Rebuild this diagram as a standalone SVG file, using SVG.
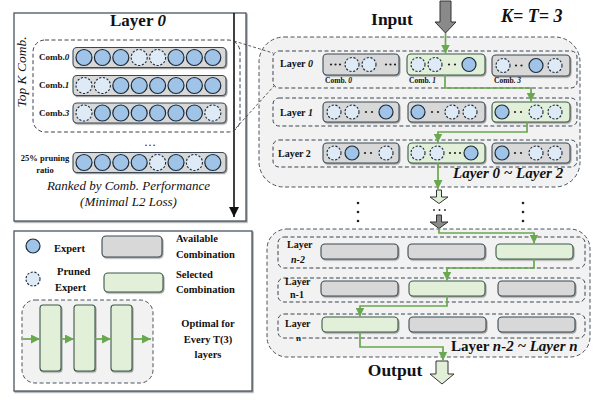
<svg xmlns="http://www.w3.org/2000/svg" width="604" height="414" viewBox="0 0 604 414">
<defs>
<style>
text{font-family:"Liberation Serif","Times New Roman",serif;font-weight:bold;fill:#111}
.it{font-style:italic}
.ex{fill:#a0c3e8;stroke:#1c2a38;stroke-width:1.2}
.pr{fill:#deebf7;stroke:#1c2a38;stroke-width:1.1;stroke-dasharray:2.2 1.6}
.cb{fill:#d8d8d8;stroke:#3b4a55;stroke-width:1.1}
.cg{fill:#e2f0d9;stroke:#3b5a48;stroke-width:1.1}
.dash{fill:none;stroke:#3b4550;stroke-width:1;stroke-dasharray:4 2.5}
.rowd{fill:none;stroke:#3b4550;stroke-width:1;stroke-dasharray:4 2.5}
.region{fill:#f2f2f2;stroke:#4a5560;stroke-width:1;stroke-dasharray:4 2.5}
.g{fill:none;stroke:#6aa84f;stroke-width:1.7}
.dot{fill:#222}
.panel{fill:#fff;stroke:#4a5560;stroke-width:1.3}
</style>
<filter id="sh" x="-10%" y="-10%" width="130%" height="140%">
<feDropShadow dx="1" dy="1.2" stdDeviation="0.7" flood-color="#777" flood-opacity="0.7"/>
</filter>
<marker id="ga" markerUnits="userSpaceOnUse" markerWidth="9" markerHeight="9" viewBox="0 0 10 10" refX="10" refY="5" orient="auto">
<path d="M0,0 L10,5 L0,10 z" fill="#6aa84f"/>
</marker>
<marker id="ka" markerUnits="userSpaceOnUse" markerWidth="10" markerHeight="10" viewBox="0 0 10 10" refX="10" refY="5" orient="auto">
<path d="M0,0 L10,5 L0,10 z" fill="#111"/>
</marker>
</defs>

<!-- Left panel: Layer 0 -->
<g id="layer0-panel">
<rect class="panel" x="14" y="13" width="232" height="208" filter="url(#sh)"/>
<text x="110" y="26" font-size="17">Layer <tspan class="it">0</tspan></text>
<line x1="234" y1="13" x2="234" y2="217" stroke="#111" stroke-width="1.6" marker-end="url(#ka)"/>
<rect class="dash" x="33" y="40" width="207" height="92" rx="12"/>
<text transform="translate(26,72) rotate(-90)" font-size="13.5" class="it" text-anchor="middle" style="font-weight:normal">Top K Comb.</text>
</g>

<g id="comb0-row">
<text x="39" y="60" font-size="9">Comb.<tspan class="it">0</tspan></text>
<rect class="cb" x="73" y="47.5" width="153" height="20" rx="4" filter="url(#sh)"/>
<circle class="ex" cx="84" cy="57.5" r="8"/><circle class="ex" cx="102.4" cy="57.5" r="8"/><circle class="ex" cx="120.8" cy="57.5" r="8"/><circle class="pr" cx="139.2" cy="57.5" r="8"/><circle class="pr" cx="157.6" cy="57.5" r="8"/><circle class="ex" cx="176" cy="57.5" r="8"/><circle class="ex" cx="194.4" cy="57.5" r="8"/><circle class="ex" cx="212.8" cy="57.5" r="8"/>
</g>
<g id="comb1-row">
<text x="39" y="88" font-size="9">Comb.<tspan class="it">1</tspan></text>
<rect class="cb" x="73" y="75.5" width="153" height="20" rx="4" filter="url(#sh)"/>
<circle class="pr" cx="84" cy="85.5" r="8"/><circle class="pr" cx="102.4" cy="85.5" r="8"/><circle class="ex" cx="120.8" cy="85.5" r="8"/><circle class="ex" cx="139.2" cy="85.5" r="8"/><circle class="ex" cx="157.6" cy="85.5" r="8"/><circle class="ex" cx="176" cy="85.5" r="8"/><circle class="ex" cx="194.4" cy="85.5" r="8"/><circle class="ex" cx="212.8" cy="85.5" r="8"/>
</g>
<g id="comb3-row">
<text x="39" y="116" font-size="9">Comb.<tspan class="it">3</tspan></text>
<rect class="cb" x="73" y="103" width="153" height="20" rx="4" filter="url(#sh)"/>
<circle class="pr" cx="84" cy="113" r="8"/><circle class="ex" cx="102.4" cy="113" r="8"/><circle class="ex" cx="120.8" cy="113" r="8"/><circle class="ex" cx="139.2" cy="113" r="8"/><circle class="ex" cx="157.6" cy="113" r="8"/><circle class="ex" cx="176" cy="113" r="8"/><circle class="ex" cx="194.4" cy="113" r="8"/><circle class="pr" cx="212.8" cy="113" r="8"/>
</g>
<text x="150" y="146" font-size="12" text-anchor="middle" style="font-weight:normal">…</text>
<g id="prune-row">
<text x="45" y="161" font-size="8.5" text-anchor="middle">25% pruning</text>
<text x="45" y="173" font-size="8.5" text-anchor="middle">ratio</text>
<rect class="cb" x="73" y="152.5" width="153" height="20" rx="4" filter="url(#sh)"/>
<circle class="ex" cx="84" cy="162.5" r="8"/><circle class="ex" cx="102.4" cy="162.5" r="8"/><circle class="ex" cx="120.8" cy="162.5" r="8"/><circle class="ex" cx="139.2" cy="162.5" r="8"/><circle class="pr" cx="157.6" cy="162.5" r="8"/><circle class="ex" cx="176" cy="162.5" r="8"/><circle class="pr" cx="194.4" cy="162.5" r="8"/><circle class="ex" cx="212.8" cy="162.5" r="8"/>
</g>
<text x="128.5" y="190" font-size="13" text-anchor="middle" class="it" style="font-weight:normal">Ranked by Comb. Performance</text>
<text x="128.5" y="206" font-size="13" text-anchor="middle" class="it" style="font-weight:normal">(Minimal L2 Loss)</text>

<!-- Legend -->
<g id="legend">
<rect class="panel" x="14" y="231" width="238" height="160" filter="url(#sh)"/>
<circle class="ex" cx="33" cy="246" r="7"/>
<text x="54" y="252" font-size="10.5">Expert</text>
<rect class="cb" x="102" y="236" width="60" height="21" rx="4" filter="url(#sh)"/>
<text x="176" y="242" font-size="10.5">Available</text>
<text x="176" y="258" font-size="10.5">Combination</text>
<circle class="pr" cx="33" cy="279" r="7"/>
<text x="57" y="275" font-size="10.5">Pruned</text>
<text x="55" y="291" font-size="10.5">Expert</text>
<rect class="cg" x="104" y="273" width="59" height="19" rx="4" filter="url(#sh)"/>
<text x="176" y="278" font-size="10.5">Selected</text>
<text x="176" y="293" font-size="10.5">Combination</text>
<rect class="region" x="22" y="300" width="131" height="83" rx="13"/>
<rect class="cg" x="40" y="305" width="21" height="66" rx="3" filter="url(#sh)"/>
<rect class="cg" x="74" y="305" width="21" height="66" rx="3" filter="url(#sh)"/>
<rect class="cg" x="111" y="305" width="21" height="66" rx="3" filter="url(#sh)"/>
<line class="g" x1="23" y1="339" x2="40" y2="339" marker-end="url(#ga)"/>
<line class="g" x1="61" y1="339" x2="74" y2="339" marker-end="url(#ga)"/>
<line class="g" x1="95" y1="339" x2="111" y2="339" marker-end="url(#ga)"/>
<line class="g" x1="132" y1="339" x2="151" y2="339" marker-end="url(#ga)"/>
<text x="208" y="327" font-size="10.5" text-anchor="middle">Optimal for</text>
<text x="208" y="343" font-size="10.5" text-anchor="middle">Every T(3)</text>
<text x="208" y="358" font-size="10.5" text-anchor="middle">layers</text>
</g>

<!-- Right top region -->
<g id="top-region">
<rect class="region" x="259" y="37" width="321" height="150" rx="25"/>
<text x="392" y="25" font-size="17.5" text-anchor="middle">Input</text>
<text x="501" y="22" font-size="18" class="it">K= T= 3</text>
<text x="453" y="178" font-size="15" class="it">Layer  0 ~ Layer  2</text>
</g>

<g id="layer0-row">
<rect class="rowd" x="273" y="51" width="304" height="37" rx="6"/>
<text x="280" y="67" font-size="10">Layer <tspan class="it">0</tspan></text>
<rect class="cb" x="323" y="54" width="76" height="21" rx="4" filter="url(#sh)"/>
<circle class="dot" cx="331" cy="64.5" r="1.1"/><circle class="dot" cx="335.5" cy="64.5" r="1.1"/><circle class="dot" cx="340" cy="64.5" r="1.1"/>
<circle class="pr" cx="352" cy="64.5" r="7"/><circle class="pr" cx="369" cy="64.5" r="7"/>
<circle class="dot" cx="386" cy="64.5" r="1.1"/><circle class="dot" cx="390.5" cy="64.5" r="1.1"/><circle class="dot" cx="395" cy="64.5" r="1.1"/>
<rect class="cg" x="407" y="54" width="78" height="21" rx="4" filter="url(#sh)"/>
<circle class="pr" cx="418" cy="64.5" r="7"/><circle class="pr" cx="435" cy="64.5" r="7"/>
<circle class="dot" cx="449" cy="64.5" r="1.1"/><circle class="dot" cx="455" cy="64.5" r="1.1"/>
<circle class="ex" cx="469" cy="64.5" r="7"/>
<rect class="cb" x="492" y="55" width="78" height="21" rx="4" filter="url(#sh)"/>
<circle class="pr" cx="503" cy="65.5" r="7"/>
<circle class="dot" cx="516" cy="65.5" r="1.1"/><circle class="dot" cx="521.5" cy="65.5" r="1.1"/>
<circle class="ex" cx="536" cy="65.5" r="7"/><circle class="pr" cx="555" cy="65.5" r="7"/>
<text x="325" y="83" font-size="7.5">Comb. <tspan class="it">0</tspan></text>
<text x="409" y="83" font-size="7.5">Comb. <tspan class="it">1</tspan></text>
<text x="494" y="83" font-size="7.5">Comb. <tspan class="it">3</tspan></text>
</g>

<g id="layer1-row">
<rect class="rowd" x="273" y="98" width="304" height="28" rx="6"/>
<text x="280" y="116" font-size="10">Layer <tspan class="it">1</tspan></text>
<rect class="cb" x="323" y="102" width="76" height="20" rx="4" filter="url(#sh)"/>
<circle class="pr" cx="334" cy="112" r="7"/><circle class="pr" cx="352" cy="112" r="7"/>
<circle class="dot" cx="366" cy="112" r="1.1"/><circle class="dot" cx="372" cy="112" r="1.1"/>
<circle class="ex" cx="386" cy="112" r="7"/>
<rect class="cb" x="408" y="102" width="77" height="20" rx="4" filter="url(#sh)"/>
<circle class="ex" cx="418" cy="112" r="7"/>
<circle class="dot" cx="432" cy="112" r="1.1"/><circle class="dot" cx="438" cy="112" r="1.1"/>
<circle class="pr" cx="452" cy="112" r="7"/><circle class="pr" cx="470" cy="112" r="7"/>
<rect class="cg" x="492" y="102" width="78" height="20" rx="4" filter="url(#sh)"/>
<circle class="ex" cx="502" cy="112" r="7"/>
<circle class="dot" cx="515" cy="112" r="1.1"/><circle class="dot" cx="521" cy="112" r="1.1"/>
<circle class="pr" cx="536" cy="112" r="7"/><circle class="pr" cx="555" cy="112" r="7"/>
</g>

<g id="layer2-row">
<rect class="rowd" x="273" y="140" width="304" height="27" rx="6"/>
<text x="278" y="157" font-size="10">Layer 2</text>
<rect class="cb" x="323" y="143" width="76" height="20" rx="4" filter="url(#sh)"/>
<circle class="pr" cx="334" cy="153" r="7"/><circle class="ex" cx="352" cy="153" r="7"/>
<circle class="dot" cx="365" cy="153" r="1.1"/><circle class="dot" cx="371" cy="153" r="1.1"/>
<circle class="pr" cx="386" cy="153" r="7"/>
<rect class="cg" x="408" y="143" width="77" height="20" rx="4" filter="url(#sh)"/>
<circle class="pr" cx="418" cy="153" r="7"/><circle class="pr" cx="437" cy="153" r="7"/>
<circle class="dot" cx="450" cy="153" r="1.1"/><circle class="dot" cx="455" cy="153" r="1.1"/><circle class="dot" cx="460" cy="153" r="1.1"/>
<circle class="ex" cx="471" cy="153" r="7"/>
<rect class="cb" x="492" y="143" width="78" height="20" rx="4" filter="url(#sh)"/>
<circle class="ex" cx="502" cy="153" r="7"/>
<circle class="dot" cx="515" cy="153" r="1.1"/><circle class="dot" cx="521" cy="153" r="1.1"/>
<circle class="pr" cx="536" cy="153" r="7"/><circle class="pr" cx="555" cy="153" r="7"/>
</g>

<!-- Between regions -->
<g id="ellipsis">
<circle class="dot" cx="358" cy="203" r="1.3"/><circle class="dot" cx="358" cy="212" r="1.3"/><circle class="dot" cx="358" cy="221" r="1.3"/>
<circle class="dot" cx="523" cy="203" r="1.3"/><circle class="dot" cx="523" cy="212" r="1.3"/><circle class="dot" cx="523" cy="221" r="1.3"/>
<circle class="dot" cx="434" cy="210" r="0.9"/><circle class="dot" cx="439.5" cy="210" r="0.9"/><circle class="dot" cx="445" cy="210" r="0.9"/>
</g>

<!-- Bottom region -->
<g id="bottom-region">
<rect class="region" x="267" y="229" width="323" height="128" rx="20"/>
<text x="451" y="351" font-size="15">Layer <tspan class="it">n-2 ~ Layer n</tspan></text>
</g>
<g id="layer-n2-row">
<rect class="rowd" x="278" y="237" width="307" height="31" rx="6"/>
<text x="287" y="248" font-size="10">Layer</text>
<text x="291" y="263" font-size="10" class="it">n-2</text>
<rect class="cb" x="321" y="244" width="77" height="15" rx="4" filter="url(#sh)"/>
<rect class="cb" x="408" y="244" width="77" height="15" rx="4" filter="url(#sh)"/>
<rect class="cg" x="496" y="244" width="77" height="15" rx="4" filter="url(#sh)"/>
</g>
<g id="layer-n1-row">
<rect class="rowd" x="278" y="278" width="307" height="24" rx="6"/>
<text x="285" y="285" font-size="10">Layer</text>
<text x="290" y="298" font-size="10">n-1</text>
<rect class="cb" x="321" y="281" width="77" height="15" rx="4" filter="url(#sh)"/>
<rect class="cg" x="409" y="281" width="76" height="15" rx="4" filter="url(#sh)"/>
<rect class="cb" x="498" y="281" width="77" height="15" rx="4" filter="url(#sh)"/>
</g>
<g id="layer-n-row">
<text x="285" y="327" font-size="10">Layer</text>
<text x="296" y="341" font-size="9">n</text>
<rect class="rowd" x="278" y="314" width="307" height="24" rx="6"/>
<rect class="cg" x="322" y="317" width="76" height="15" rx="4" filter="url(#sh)"/>
<rect class="cb" x="409" y="317" width="77" height="15" rx="4" filter="url(#sh)"/>
<rect class="cb" x="498" y="317" width="77" height="15" rx="4" filter="url(#sh)"/>
<text x="395" y="376" font-size="17.5" text-anchor="middle">Output</text>
</g>

<!-- Connectors -->
<g id="connectors">
<line x1="234" y1="41" x2="273" y2="53" stroke="#333" stroke-width="0.8" stroke-dasharray="3 2"/>
<line x1="236" y1="128" x2="274" y2="86" stroke="#333" stroke-width="0.8" stroke-dasharray="3 2"/>
<polygon points="440,1 451,1 451,22 456,22 445.5,33 435,22 440,22" fill="#8a8a8a" stroke="#333" stroke-width="1"/>
<polygon points="436.5,190 441.5,190 441.5,197 448,197 439,203.5 430,197 436.5,197" fill="#e2f0d9" stroke="#333" stroke-width="1"/>
<polygon points="436.5,215 441.5,215 441.5,222 448,222 439,228.5 430,222 436.5,222" fill="#8a8a8a" stroke="#333" stroke-width="1"/>
<polygon points="436,361 448,361 448,374 454,374 442,384 430,374 436,374" fill="#e2f0d9" stroke="#333" stroke-width="1"/>
<polyline class="g" points="445.5,33 445.5,53.5" marker-end="url(#ga)"/>
<polyline class="g" points="445,75 445,88 531,88 531,101.5" marker-end="url(#ga)"/>
<polyline class="g" points="527,122 527,132 438,132 438,142.5" marker-end="url(#ga)"/>
<polyline class="g" points="438,163 438,189" marker-end="url(#ga)"/>
<polyline class="g" points="439,228.5 439,233 534,233 534,243.5" marker-end="url(#ga)"/>
<polyline class="g" points="534,259 534,268 447,268 447,280.5" marker-end="url(#ga)"/>
<polyline class="g" points="447,296 447,306 360,306 360,316.5" marker-end="url(#ga)"/>
<polyline class="g" points="360,332 360,347 443,347 443,360.5" marker-end="url(#ga)"/>
</g>
</svg>
